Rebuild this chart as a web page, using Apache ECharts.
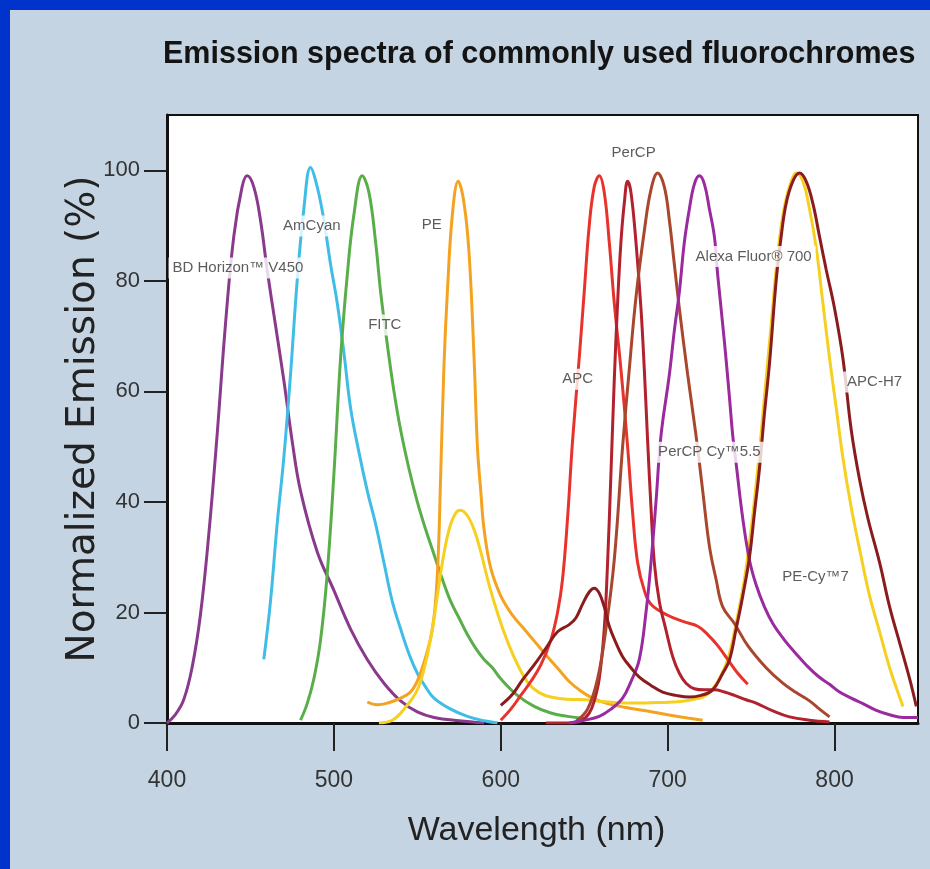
<!DOCTYPE html>
<html>
<head>
<meta charset="utf-8">
<script src="https://cdn.jsdelivr.net/npm/echarts@6/dist/echarts.min.js"></script>
<style>
html,body{margin:0;padding:0;background:#c5d4e2;}
#chart{width:930px;height:869px;}
</style>
</head>
<body>
<div id="chart"></div>
<script>
// ---- data (wavelength nm, normalized emission %) ----
const xTicks = [400, 500, 600, 700, 800];
const yTicks = [0, 20, 40, 60, 80, 100];

const v450 = [[400,0],[405,1.5],[410,4.2],[415,10],[420,19.5],[425,34],[430,52],[435,72],[440,88],[445,97],[448,99],[452,97],[456,91],[460,82],[465,72],[470,62],[475,51],[480,42],[490,31],[500,24],[510,17],[520,11.5],[530,7.2],[540,4],[550,2],[560,1],[575,0.4],[590,0]];
const amCyan = [[458,11.5],[462,22],[466,36],[470,48],[474,63],[478,80],[482,93],[486,100.5],[490,97],[494,91],[498,83],[502,76],[506,67],[510,57],[515,49],[520,42],[525,36],[530,29],[535,22],[540,17],[545,12.5],[550,9],[555,6.5],[560,4.5],[570,2.5],[580,1.2],[590,0.4],[598,0]];
const fitc = [[480,0.5],[484,3.5],[488,8],[492,15],[496,27],[500,45],[504,66],[508,81],[512,92],[517,99],[521,96],[525,87],[528,78],[532,68.5],[536,60],[540,53],[545,46],[550,40],[555,35],[560,30.5],[565,26],[570,22],[575,19],[580,16],[585,13.5],[590,11.5],[595,10],[600,8],[610,5],[620,3],[630,1.8],[640,1.2],[650,0.8]];
const pe = [[520,3.8],[526,3.3],[532,3.6],[540,4.5],[547,6],[553,10],[559,17],[562,27],[564,45],[566,65],[568,78],[571,92],[574.5,98],[578,94],[581,85],[584,66],[586,50],[588,42],[590,35],[594,28],[600,23],[607,19.5],[614,17],[621,14.5],[628,12],[635,9.6],[641,7.5],[647,6],[655,4.5],[663,3.6],[675,2.8],[687,2.2],[700,1.5],[712,0.9],[721,0.5]];
const peCy7 = [[527,0],[535,0.5],[542,2.5],[550,6],[555,11],[559,17],[562,23],[565,29],[569,35],[573,38],[576,38.5],[580,37.5],[584,35],[588,31],[593,25],[599,19],[605,14],[611,10],[617,7],[623,5.5],[630,4.7],[640,4.3],[651,4.2],[665,3.8],[680,3.6],[695,3.7],[708,3.9],[716,4.3],[723,5],[730,7.5],[736,11.5],[741,18],[746,26],[750,35],[754,46],[758,59],[762,72],[766,85],[770,93.5],[774,98],[777,99.5],[781,98],[785,93],[789,86],[793,76],[797,66],[801,57],[805,48],[810,39],[816,30],[821,23],[827,16.5],[833,10],[838,5.5],[841,3]];
const apc = [[600,0.5],[606,2.5],[612,5],[618,7.5],[624,10.5],[630,15],[634,20],[637,26],[640,37],[643,51],[647,66],[650,78],[653,90],[656,97],[659,99],[662,96],[665,87],[668,76],[672,64],[676,50],[679,38],[682,29],[686,24],[690,21.5],[700,19.5],[710,18.3],[718,17.5],[724,16],[730,14],[736,11.5],[742,9],[748,7]];
const perCP = [[627,0],[640,0],[648,0.4],[653,1.8],[656,4],[659,8],[662,17],[664,29],[666,45],[668,62],[670,76],[672,87],[674,94],[676,98],[678,96],[681,87],[684,75],[686,64],[688,51],[690,39],[692,29],[695,22],[699,16.8],[703,12],[707,9],[711,7.2],[716,6.2],[722,6],[728,6],[734,5.6],[740,5],[747,4.2],[753,3.6],[763,2.2],[773,1.1],[785,0.5],[797,0.2]];
const perCPCy55 = [[645,0.3],[652,2.5],[658,8],[663,17],[668,29.5],[673,50],[677,64],[681,77],[686,89],[690,96.5],[694,99.5],[698,97],[701,91],[704,83],[707,75],[712,63],[717,52],[721,42],[725,32],[729,26],[733,21],[740,18],[748,14],[759,10],[769,7.2],[777,5.5],[785,4],[791,2.5],[797,1.1]];
const alexa700 = [[641,0],[650,0.5],[659,1.2],[666,2.5],[673,4.5],[678,7.5],[683,11.5],[687,20],[690,29],[693,40],[696,52],[701,63],[704,71],[707,78],[710,87],[713,93],[716,97.5],[719,99],[722,97.5],[725,93],[728,88],[730,81],[734,69],[737,59],[739,52],[741,47],[745,37],[749,29.5],[753,25],[758,21],[763,18],[770,15],[777,12.5],[783,10.5],[790,8.5],[797,7],[803,5.6],[810,4.5],[817,3.5],[825,2.3],[833,1.5],[841,1],[850,1]];
const apcH7 = [[600,3.2],[607,5.2],[613,7.8],[620,10.5],[627,13.5],[634,16.5],[641,17.8],[645,19],[649,21.5],[653,23.7],[656,24.4],[659,23.5],[662,21],[665,17.5],[669,14.5],[673,12],[678,10],[683,8.3],[690,6.8],[697,5.6],[705,5],[713,4.7],[720,5],[727,6],[733,9],[737,11.4],[741,17],[745,23],[749,30],[752,38],[755,46],[758,56],[761,65],[765,80],[768,88],[771,94],[775,98],[779,99.5],[783,98],[787,94],[791,88],[795,82],[800,75],[805,66],[810,53],[815,44],[820,37],[827,29],[833,21],[839,14.5],[845,8],[849,3]];

const seriesNames = ['BD Horizon V450','AmCyan','FITC','PE','PE-Cy7','APC','PerCP','PerCP-Cy5.5','Alexa Fluor 700','APC-H7'];
const seriesData = [v450, amCyan, fitc, pe, peCy7, apc, perCP, perCPCy55, alexa700, apcH7];
const seriesColors = ['#8a3a8c','#40bde6','#5aae4a','#f4a321','#f5d020','#e8332c','#b3202e','#a8472d','#9a2a9e','#8a1c1e'];

// curve labels: text and anchor (wavelength, %)
const labelTexts = ['BD Horizon™ V450','AmCyan','FITC','PE','APC','PerCP','Alexa Fluor® 700','APC-H7','PerCP Cy™5.5','PE-Cy™7'];
const labelAnchors = [[442.5,82.3],[486.8,89.9],[530.5,72],[558.7,90.2],[646,62.2],[679.6,103.1],[751.5,84.4],[824,61.7],[725,49],[788.6,26.4]];

const chart = echarts.init(document.getElementById('chart'));

const lineSeries = seriesData.map((d, i) => ({
  name: seriesNames[i],
  type: 'line',
  data: d,
  showSymbol: false,
  smooth: 0.4,
  lineStyle: { color: seriesColors[i], width: 3 },
  itemStyle: { color: seriesColors[i] },
  z: 2
}));

const labelSeries = {
  type: 'scatter',
  data: labelAnchors.map((p, i) => ({ value: p, name: labelTexts[i] })),
  symbolSize: 0,
  silent: true,
  z: 10,
  label: {
    show: true,
    position: 'inside',
    formatter: p => p.name,
    fontFamily: 'Liberation Sans',
    fontSize: 15,
    color: '#333',
    backgroundColor: '#ffffff',
    padding: [3, 4]
  }
};

chart.setOption({
  animation: false,
  backgroundColor: '#c5d4e2',
  graphic: [
    { type: 'rect', left: 0, top: 0, shape: { width: 930, height: 10 }, style: { fill: '#0033cc' }, z: 100 },
    { type: 'rect', left: 0, top: 0, shape: { width: 10, height: 869 }, style: { fill: '#0033cc' }, z: 100 }
  ],
  title: {
    text: 'Emission spectra of commonly used fluorochromes',
    left: 163,
    top: 39,
    padding: 0,
    textStyle: { fontFamily: 'Liberation Sans', fontWeight: 'bold', fontSize: 30.5, color: '#141414' }
  },
  grid: {
    left: 167, right: 12, top: 115, bottom: 146,
    show: true, backgroundColor: '#ffffff', borderColor: '#111', borderWidth: 2
  },
  xAxis: {
    type: 'value', min: 400, max: 850, interval: 100,
    name: 'Wavelength (nm)', nameLocation: 'middle', nameGap: 91, nameMoveOverlap: false,
    nameTextStyle: { fontFamily: 'Liberation Sans', fontSize: 34, color: '#222', padding: [0, 12, 0, 0] },
    axisLine: { lineStyle: { color: '#111', width: 3 } },
    axisTick: { show: true, length: 28, inside: false, lineStyle: { color: '#222', width: 2 }, customValues: xTicks },
    axisLabel: { margin: 46, fontFamily: 'Liberation Sans', fontSize: 23, color: '#333', customValues: xTicks },
    splitLine: { show: false }
  },
  yAxis: {
    type: 'value', min: 0, max: 110, interval: 20,
    name: 'Normalized Emission (%)', nameLocation: 'middle', nameGap: 64, nameMoveOverlap: false,
    nameTextStyle: { fontFamily: 'DejaVu Sans', fontSize: 39, color: '#222' },
    axisLine: { lineStyle: { color: '#111', width: 3 } },
    axisTick: { show: true, length: 23, lineStyle: { color: '#222', width: 2 }, customValues: yTicks },
    axisLabel: { margin: 27, fontFamily: 'Liberation Sans', fontSize: 22, color: '#333', customValues: yTicks },
    splitLine: { show: false }
  },
  series: [...lineSeries, labelSeries]
});
</script>
</body>
</html>
